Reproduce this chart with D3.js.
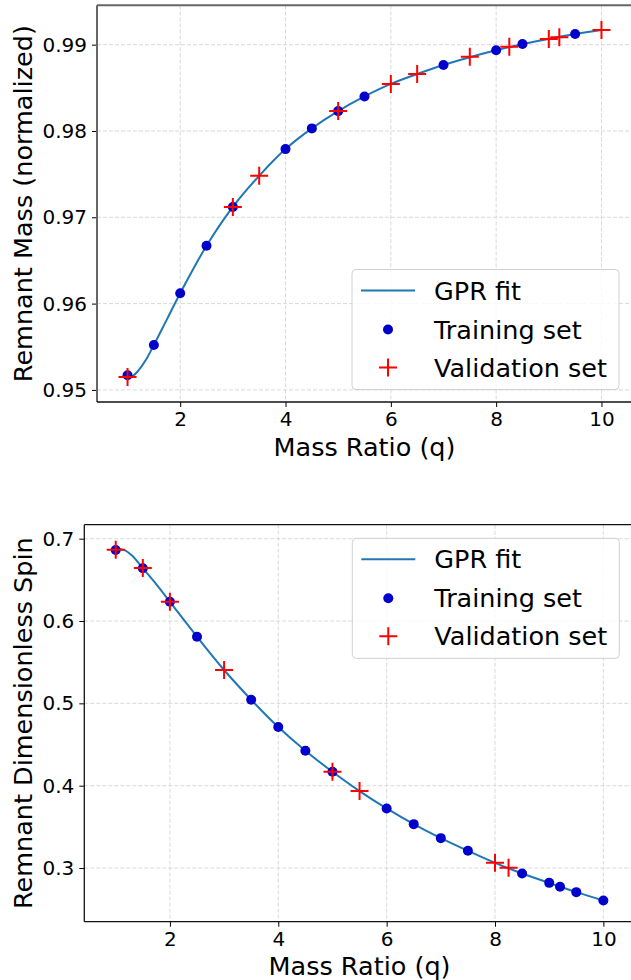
<!DOCTYPE html>
<html>
<head>
<meta charset="utf-8">
<style>
  body { margin: 0; background: #fff; }
  text { font-family: "DejaVu Sans", sans-serif; fill: #000; }
  .tick text { font-size: 20px; }
  .axis-label { font-size: 25.5px; }
  .legend text { font-size: 25.5px; }
</style>
<script src="https://cdn.jsdelivr.net/npm/d3@7"></script>
</head>
<body>
<script>
// ---- data ----
const xTicks = [2, 4, 6, 8, 10];

// top panel: remnant mass
const massTrainQ = [1, 1.5, 2, 2.5, 3, 4, 4.5, 5, 5.5, 7, 8, 8.5, 9.5];
const massTrainV = [0.9517, 0.9552, 0.9612, 0.9667, 0.9712, 0.9779, 0.9803, 0.9823, 0.9840, 0.98765, 0.98935, 0.99008, 0.99124];
const massValQ = [1, 3, 3.5, 5, 6, 6.5, 7.5, 8.25, 9, 9.2, 10];
const massValV = [0.9515, 0.9712, 0.9748, 0.9823, 0.98545, 0.9866, 0.98861, 0.98977, 0.99066, 0.99086, 0.9917];
const massFitQ = [1, 1.1, 1.2, 1.35, 1.5, 1.75, 2, 2.5, 3, 3.5, 4, 4.5, 5, 5.5, 6, 6.5, 7, 7.5, 8, 8.5, 9, 9.5, 10];
const massFitV = [0.9514, 0.9516, 0.9522, 0.9535, 0.9552, 0.9582, 0.9612, 0.9667, 0.9712, 0.9748, 0.9779, 0.9803, 0.9823, 0.9840, 0.98545, 0.9866, 0.98765, 0.98855, 0.98935, 0.99005, 0.99066, 0.99124, 0.9917];
const massTicks = [0.95, 0.96, 0.97, 0.98, 0.99];

// bottom panel: remnant spin
const spinTrainQ = [1, 1.5, 2, 2.5, 3.5, 4, 4.5, 5, 6, 6.5, 7, 7.5, 8.5, 9, 9.2, 9.5, 10];
const spinTrainV = [0.6863, 0.6640, 0.6234, 0.5809, 0.5044, 0.4712, 0.4424, 0.4169, 0.3724, 0.3533, 0.3363, 0.3209, 0.2934, 0.2820, 0.2772, 0.2707, 0.2606];
const spinValQ = [1, 1.5, 2, 3, 5, 5.5, 8, 8.25];
const spinValV = [0.6865, 0.6645, 0.6234, 0.5405, 0.4169, 0.3934, 0.3063, 0.3002];
const spinFitQ = [1, 1.15, 1.3, 1.5, 1.75, 2, 2.5, 3, 3.5, 4, 4.5, 5, 5.5, 6, 6.5, 7, 7.5, 8, 8.5, 9, 9.5, 10];
const spinFitV = [0.6868, 0.6864, 0.6795, 0.6640, 0.6445, 0.6234, 0.5809, 0.5405, 0.5044, 0.4712, 0.4424, 0.4169, 0.3934, 0.3724, 0.3533, 0.3363, 0.3209, 0.3063, 0.2934, 0.2820, 0.2707, 0.2606];
const spinTicks = [0.3, 0.4, 0.5, 0.6, 0.7];

const legendLabels = ["GPR fit", "Training set", "Validation set"];

const W = 631, H = 980;
const svg = d3.select("body").append("svg")
  .attr("width", W)
  .attr("height", H);

function drawPanel(p) {
  const x = d3.scaleLinear().domain([0.42, 10.58]).range([p.left, p.right]);
  const y = d3.scaleLinear().domain(p.yDomain).range([p.bottom, p.top]);
  const g = svg.append("g");

  // grid
  g.append("g").selectAll("line.gx")
    .data(xTicks).enter().append("line")
    .attr("x1", d => x(d)).attr("x2", d => x(d))
    .attr("y1", p.top).attr("y2", p.bottom)
    .attr("stroke", "#d9d9d9").attr("stroke-width", 1)
    .attr("stroke-dasharray", "4,2");
  g.append("g").selectAll("line.gy")
    .data(p.yTicks).enter().append("line")
    .attr("x1", p.left).attr("x2", p.right)
    .attr("y1", d => y(d)).attr("y2", d => y(d))
    .attr("stroke", "#d9d9d9").attr("stroke-width", 1)
    .attr("stroke-dasharray", "4,2");

  // fit line
  const fit = p.fitQ.map((q, i) => [q, p.fitV[i]]);
  g.append("path")
    .datum(fit)
    .attr("fill", "none")
    .attr("stroke", "#1f77b4")
    .attr("stroke-width", 2)
    .attr("d", d3.line().x(d => x(d[0])).y(d => y(d[1])).curve(d3.curveCatmullRom.alpha(0.5)));

  // training points
  g.append("g").selectAll("circle")
    .data(p.trainQ.map((q, i) => [q, p.trainV[i]]))
    .enter().append("circle")
    .attr("cx", d => x(d[0]))
    .attr("cy", d => y(d[1]))
    .attr("r", 5)
    .attr("fill", "#0000cd");

  // validation points
  g.append("g").selectAll("path")
    .data(p.valQ.map((q, i) => [q, p.valV[i]]))
    .enter().append("path")
    .attr("transform", d => "translate(" + x(d[0]) + "," + y(d[1]) + ")")
    .attr("d", "M-9,0H9M0,-9V9")
    .attr("stroke", "red")
    .attr("stroke-width", 2);

  // axes
  const xAxis = d3.axisBottom(x).tickValues(xTicks).tickSize(5).tickPadding(5).tickFormat(d3.format("d"));
  const yAxis = d3.axisLeft(y).tickValues(p.yTicks).tickSize(5).tickPadding(5).tickFormat(d3.format(p.fmt));
  const gx = g.append("g")
    .attr("transform", "translate(0," + p.bottom + ")")
    .call(xAxis);
  const gy = g.append("g")
    .attr("transform", "translate(" + p.left + ",0)")
    .call(yAxis);
  [gx, gy].forEach(a => {
    a.select(".domain").remove();
    a.attr("font-family", null).attr("font-size", null);
    a.selectAll(".tick line").attr("stroke", "#000");
  });

  // spines
  g.append("line").attr("x1", p.left).attr("x2", p.right + 2).attr("y1", p.top).attr("y2", p.top)
    .attr("stroke", p.spineTop).attr("stroke-width", p.spineW);
  g.append("line").attr("x1", p.left).attr("x2", p.left).attr("y1", p.top).attr("y2", p.bottom)
    .attr("stroke", p.spineTop).attr("stroke-width", p.spineW);
  g.append("line").attr("x1", p.left).attr("x2", p.right + 2).attr("y1", p.bottom).attr("y2", p.bottom)
    .attr("stroke", "#111").attr("stroke-width", 1.3);

  // labels
  g.append("text")
    .attr("class", "axis-label")
    .attr("x", (p.left + p.right) / 2)
    .attr("y", p.xLabelY)
    .attr("text-anchor", "middle")
    .text("Mass Ratio (q)");
  g.append("text")
    .attr("class", "axis-label")
    .attr("transform", "translate(" + p.yLabelX + "," + (p.top + p.bottom) / 2 + ") rotate(-90)")
    .attr("text-anchor", "middle")
    .text(p.yLabel);

  // legend
  const lg = g.append("g").attr("class", "legend");
  lg.append("rect")
    .attr("x", p.legX).attr("y", p.legY)
    .attr("width", 267).attr("height", 120)
    .attr("rx", 4)
    .attr("fill", "#fff").attr("fill-opacity", 0.8)
    .attr("stroke", "#d0d0d0").attr("stroke-width", 1);
  const rows = [p.legY + 21, p.legY + 60, p.legY + 98];
  lg.append("line")
    .attr("x1", p.legX + 9).attr("x2", p.legX + 63)
    .attr("y1", rows[0]).attr("y2", rows[0])
    .attr("stroke", "#1f77b4").attr("stroke-width", 2);
  lg.append("circle")
    .attr("cx", p.legX + 36).attr("cy", rows[1]).attr("r", 5)
    .attr("fill", "#0000cd");
  lg.append("path")
    .attr("transform", "translate(" + (p.legX + 36) + "," + rows[2] + ")")
    .attr("d", "M-9,0H9M0,-9V9")
    .attr("stroke", "red").attr("stroke-width", 2);
  lg.selectAll("text.lt")
    .data(legendLabels).enter().append("text")
    .attr("x", p.legX + 82)
    .attr("y", (d, i) => rows[i] + 9)
    .text(d => d);
}

drawPanel({
  left: 97, right: 632, top: 5.3, bottom: 402,
  yDomain: [0.9486, 0.99456], yTicks: massTicks, fmt: ".2f",
  fitQ: massFitQ, fitV: massFitV,
  trainQ: massTrainQ, trainV: massTrainV,
  valQ: massValQ, valV: massValV,
  yLabel: "Remnant Mass (normalized)", yLabelX: 32, xLabelY: 456,
  spineTop: "#666", spineW: 2,
  legX: 352, legY: 269.5
});

drawPanel({
  left: 84.3, right: 634.8, top: 524.7, bottom: 921.7,
  yDomain: [0.2348, 0.717], yTicks: spinTicks, fmt: ".1f",
  fitQ: spinFitQ, fitV: spinFitV,
  trainQ: spinTrainQ, trainV: spinTrainV,
  valQ: spinValQ, valV: spinValV,
  yLabel: "Remnant Dimensionless Spin", yLabelX: 32, xLabelY: 975,
  spineTop: "#111", spineW: 1.3,
  legX: 352.3, legY: 538.3
});
</script>
</body>
</html>
